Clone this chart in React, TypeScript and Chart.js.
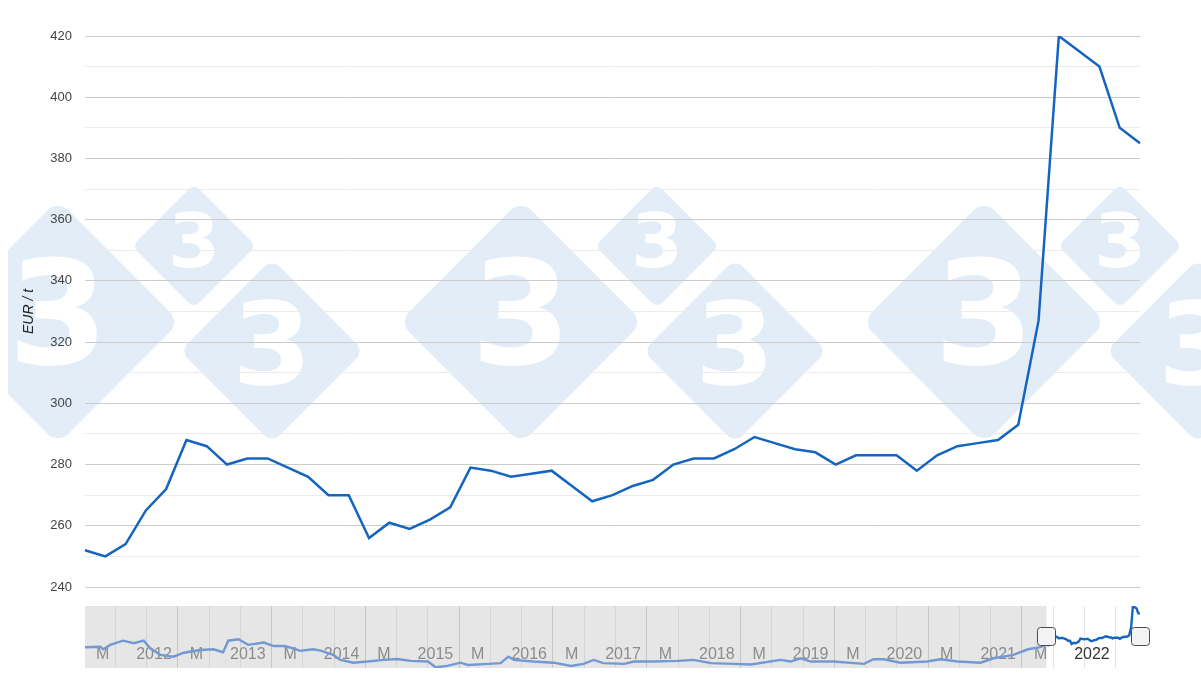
import React, { useEffect, useRef } from 'react';
import { Chart, registerables } from 'chart.js';

Chart.register(...registerables);

// ---- Main chart data (weekly, EUR / t) ----
const mainStart = '2021-04-05';
const mainValues = [
  252, 250, 254, 265, 272, 288, 286, 280, 282, 282,
  279, 276, 270, 270, 256, 261, 259, 262, 266, 279,
  278, 276, 277, 278, 273, 268, 270, 273, 275, 280,
  282, 282, 285, 289, 287, 285, 284, 280, 283, 283,
  283, 278, 283, 286, 287, 288, 293, 327, 420, 415,
  410, 390, 385,
];
const yTicksMin = 240;
const yTicksMax = 420;
const yTitle = 'EUR / t';

// ---- Navigator history (read from the range selector) ----
const navDates = [
  '2011-01-05', '2011-03-04', '2011-03-15', '2011-04-12', '2011-06-01', '2011-07-12', '2011-08-21', '2011-09-15',
  '2011-10-25', '2011-12-15', '2012-01-25', '2012-03-28', '2012-05-18', '2012-06-25', '2012-07-15', '2012-08-25',
  '2012-10-01', '2012-12-01', '2013-01-10', '2013-02-18', '2013-03-25', '2013-04-21', '2013-06-10', '2013-07-10',
  '2013-08-28', '2013-09-25', '2013-11-15', '2014-01-10', '2014-03-10', '2014-05-04', '2014-06-25', '2014-09-01',
  '2014-10-01', '2014-11-15', '2015-01-07', '2015-02-04', '2015-04-22', '2015-06-10', '2015-07-10', '2015-08-01',
  '2015-10-15', '2016-01-04', '2016-03-10', '2016-04-28', '2016-06-07', '2016-07-15', '2016-10-04', '2016-11-12',
  '2017-01-28', '2017-05-01', '2017-07-01', '2017-09-07', '2017-12-04', '2018-02-10', '2018-06-04', '2018-07-13',
  '2018-08-22', '2018-10-01', '2018-12-28', '2019-04-25', '2019-06-01', '2019-07-10', '2019-09-15', '2019-12-28',
  '2020-02-18', '2020-04-25', '2020-07-22', '2020-09-12', '2020-11-28', '2021-01-25', '2021-03-12',
];
const navValues = [
  242, 244, 233, 252, 270, 259, 270, 237,
  209, 201, 218, 230, 233, 220, 270, 276,
  252, 262, 247, 247, 237, 226, 233, 227,
  209, 187, 175, 180, 187, 191, 183, 180,
  155, 161, 175, 165, 170, 173, 201, 187,
  180, 175, 161, 170, 187, 173, 170, 180,
  180, 183, 187, 173, 170, 167, 187, 180,
  194, 180, 180, 170, 190, 190, 175, 180,
  190, 180, 175, 194, 209, 233, 242,
];
const navYearLabelMonth = 0; // January -> year label
const navMidLabelMonth = 4; // May -> "M"
const navMidLabel = 'M';

// ---- helpers ----
function addDays(iso: string, days: number): string {
  const d = new Date(iso + 'T00:00:00Z');
  d.setUTCDate(d.getUTCDate() + days);
  return d.toISOString().slice(0, 10);
}
function monthIndex(iso: string): number {
  const [y, m, dd] = iso.split('-').map(Number);
  const dim = new Date(Date.UTC(y, m, 0)).getUTCDate();
  return (y - 2011) * 12 + (m - 1) + (dd - 1) / dim;
}
function navLabel(m: number): string {
  if (m % 12 === navYearLabelMonth) return String(2011 + m / 12);
  if (m % 12 === navMidLabelMonth) return navMidLabel;
  return '';
}
const mainDates = mainValues.map((_, i) => addDays(mainStart, i * 7));

const WM_GROUP_X = [0, 463, 926];
const WM_SHAPES = [
  { x: 58, y: 322, r: 122, f: 144 },
  { x: 194, y: 246, r: 62, f: 74 },
  { x: 272, y: 351, r: 92, f: 114 },
];

const watermarkPlugin = {
  id: 'wm',
  beforeDraw(chart: any) {
    const ctx: CanvasRenderingContext2D = chart.ctx;
    ctx.save();
    ctx.beginPath();
    ctx.rect(8, 0, chart.width - 8, chart.height);
    ctx.clip();
    for (const gx of WM_GROUP_X) {
      for (const d of WM_SHAPES) {
        const cx = gx + d.x;
        const cy = d.y;
        const s = d.r * Math.SQRT2;
        ctx.save();
        ctx.translate(cx, cy);
        ctx.rotate(Math.PI / 4);
        ctx.fillStyle = '#e2edf8';
        ctx.beginPath();
        (ctx as any).roundRect(-s / 2, -s / 2, s, s, d.r * 0.12);
        ctx.fill();
        ctx.restore();
        ctx.fillStyle = '#ffffff';
        ctx.font = `900 ${d.f}px "DejaVu Sans", "Liberation Sans", Arial, sans-serif`;
        ctx.textAlign = 'center';
        ctx.textBaseline = 'middle';
        ctx.fillText('3', cx, cy + d.f * 0.03);
      }
    }
    ctx.restore();
  },
};

const selStart = monthIndex(mainDates[0]);
const selEnd = monthIndex(mainDates[mainDates.length - 1]);
const navMin = monthIndex(navDates[0]);
const navMax = selEnd;
const navTicks: number[] = [];
for (let m = 4; m <= navMax; m += 4) navTicks.push(m);

const navPlugin = {
  id: 'navsel',
  beforeDraw(chart: any) {
    const { ctx, chartArea, scales } = chart;
    const x0 = chartArea.left;
    const x1 = scales.x.getPixelForValue(selStart);
    ctx.save();
    ctx.fillStyle = '#e6e6e6';
    ctx.fillRect(x0, chartArea.top, x1 - x0, chartArea.bottom - chartArea.top);
    ctx.restore();
  },
  beforeDatasetsDraw(chart: any) {
    const { ctx, scales } = chart;
    ctx.save();
    ctx.font = '16px "Liberation Sans", Arial, sans-serif';
    ctx.textAlign = 'right';
    ctx.textBaseline = 'middle';
    for (const m of navTicks) {
      const t = navLabel(m);
      if (!t) continue;
      const x = scales.x.getPixelForValue(m) - 6;
      ctx.fillStyle = m > 125 ? '#333333' : '#8c8c8c';
      ctx.fillText(t, x, 55);
    }
    ctx.restore();
  },
  afterDraw(chart: any) {
    const { ctx, scales } = chart;
    const cy = 36;
    for (const v of [selStart, selEnd]) {
      const cx = scales.x.getPixelForValue(v);
      ctx.save();
      ctx.fillStyle = '#f3f3f3';
      ctx.strokeStyle = '#4a4a4a';
      ctx.lineWidth = 1;
      ctx.beginPath();
      (ctx as any).roundRect(Math.round(cx - 9.5) + 0.5, cy - 9 + 0.5, 18, 18, 3);
      ctx.fill();
      ctx.stroke();
      ctx.restore();
    }
  },
};

export default function App() {
  const mainRef = useRef<HTMLCanvasElement>(null);
  const navRef = useRef<HTMLCanvasElement>(null);

  useEffect(() => {
    Chart.defaults.font.family = '"Liberation Sans", Arial, sans-serif';

    const main = new Chart(mainRef.current as HTMLCanvasElement, {
      type: 'line',
      data: {
        labels: mainDates,
        datasets: [
          {
            data: mainValues,
            borderColor: '#1565c0',
            borderWidth: 2.5,
            pointRadius: 0,
            tension: 0,
            fill: false,
          },
        ],
      },
      options: {
        responsive: false,
        animation: false,
        layout: { padding: { top: 36, bottom: 13, right: 61, left: 0 } },
        plugins: { legend: { display: false }, tooltip: { enabled: false } },
        scales: {
          x: { display: false, offset: false },
          y: {
            min: yTicksMin,
            max: yTicksMax,
            afterFit: (s: any) => {
              s.width = 85;
              s.paddingTop = 0;
              s.paddingBottom = 0;
            },
            ticks: {
              stepSize: 10,
              padding: 13,
              color: '#444444',
              font: { size: 13 },
              callback: (v: any) => (Number(v) % 20 === 0 ? String(v) : ''),
            },
            grid: {
              drawTicks: false,
              lineWidth: 1,
              color: (c: any) => (c.tick && c.tick.value % 20 === 0 ? '#cccccc' : '#ebebeb'),
            },
            border: { display: false },
            title: {
              display: true,
              text: yTitle,
              color: '#222222',
              font: { size: 14, style: 'italic' },
              padding: { top: 21, bottom: 0 },
            },
          },
        },
      } as any,
      plugins: [watermarkPlugin],
    });

    const navPoints = [
      ...navDates.map((d, i) => ({ x: monthIndex(d), y: navValues[i] })),
      ...mainDates.map((d, i) => ({ x: monthIndex(d), y: mainValues[i] })),
    ];

    const nav = new Chart(navRef.current as HTMLCanvasElement, {
      type: 'line',
      data: {
        datasets: [
          {
            data: navPoints,
            borderColor: '#1565c0',
            borderWidth: 2.4,
            pointRadius: 0,
            tension: 0,
            fill: false,
            segment: {
              borderColor: (c: any) => (c.p0.parsed.x >= selStart - 1e-6 ? '#1565c0' : '#7199d4'),
            },
          },
        ],
      },
      options: {
        responsive: false,
        animation: false,
        layout: { padding: { top: 6, bottom: 0, left: 85, right: 61 } },
        plugins: { legend: { display: false }, tooltip: { enabled: false } },
        scales: {
          x: {
            type: 'linear',
            min: navMin,
            max: navMax,
            afterFit: (s: any) => {
              s.height = 8;
            },
            afterBuildTicks: (s: any) => {
              s.ticks = navTicks.map((v) => ({ value: v }));
            },
            ticks: { display: false },
            grid: {
              drawTicks: false,
              lineWidth: 1,
              color: (c: any) => {
                const v = c.tick ? c.tick.value : 0;
                if (v > selStart) return '#e3e3e3';
                return v % 12 === 0 ? '#c6c6c6' : '#d5d5d5';
              },
            },
            border: { display: false },
          },
          y: { display: false, min: 152, max: 420 },
        },
      } as any,
      plugins: [navPlugin],
    });

    return () => {
      main.destroy();
      nav.destroy();
    };
  }, []);

  return (
    <div style={{ position: 'absolute', left: 0, top: 0, width: 1201, height: 676, background: '#fff' }}>
      <canvas
        ref={mainRef}
        width={1201}
        height={600}
        style={{ position: 'absolute', left: 0, top: 0, width: 1201, height: 600 }}
      />
      <canvas
        ref={navRef}
        width={1201}
        height={76}
        style={{ position: 'absolute', left: 0, top: 600, width: 1201, height: 76 }}
      />
    </div>
  );
}
